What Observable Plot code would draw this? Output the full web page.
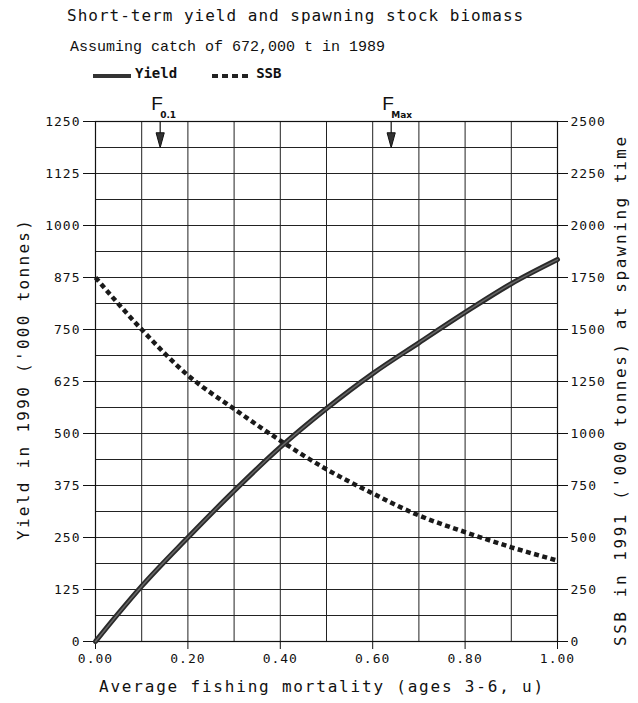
<!DOCTYPE html>
<html><head><meta charset="utf-8">
<script src="https://cdn.jsdelivr.net/npm/d3@7"></script>
<script src="https://cdn.jsdelivr.net/npm/@observablehq/plot@0.6"></script>
<style>
body{margin:0;background:#fff;}
#wrap{position:relative;width:638px;height:703px;overflow:hidden;}
#wrap > svg{position:absolute;left:0;top:0;}
#wrap > svg g[aria-label$="tick label"] text{letter-spacing:1px;}
.t{position:absolute;white-space:nowrap;color:#111;z-index:2;}
#title{left:67px;top:6px;font:16px "DejaVu Sans Mono";letter-spacing:1px;}
#sub{left:70px;top:39px;font:15px "Liberation Mono";}
#legend{left:93px;top:64px;font:bold 14px "DejaVu Sans Mono";display:flex;align-items:center;height:18px;}
#legend svg{display:block;}
#xlab{left:99px;top:677px;font:16px "DejaVu Sans Mono";letter-spacing:1.8px;}
.rot{transform-origin:0 0;transform:rotate(-90deg);font:16px "DejaVu Sans Mono";}
</style></head><body><div id="wrap">
<div class="t" id="title">Short-term yield and spawning stock biomass</div>
<div class="t" id="sub">Assuming catch of 672,000 t in 1989</div>
<div class="t" id="legend"><svg width="38" height="8" style="margin-top:6px"><rect x="0" y="2" width="38" height="4" fill="#333"/></svg><span style="margin-left:4px">Yield</span><svg width="36" height="8" style="margin-left:35px;margin-top:6px"><line x1="0" x2="36" y1="4" y2="4" stroke="#222" stroke-width="4" stroke-dasharray="6,4"/></svg><span style="margin-left:8px">SSB</span></div>
<div class="t" id="xlab">Average fishing mortality (ages 3-6, u)</div>
<div class="t rot" id="ylab" style="left:14px;top:540px;letter-spacing:2.3px;">Yield in 1990 ('000 tonnes)</div>
<div class="t rot" id="y2lab" style="left:611px;top:646px;letter-spacing:2.55px;">SSB in 1991 ('000 tonnes) at spawning time</div>
</div>
<script>
const fishingMortality = [0, 0.05, 0.1, 0.2, 0.3, 0.4, 0.5, 0.6, 0.7, 0.8, 0.9, 1.0];
const yieldValues = [0, 68, 133, 250, 362, 467, 560, 644, 718, 791, 860, 918];
const ssbValues = [1750, 1622, 1500, 1280, 1118, 966, 828, 712, 606, 526, 453, 389];
const yieldTicks = [0, 125, 250, 375, 500, 625, 750, 875, 1000, 1125, 1250];
const ssbTickLabels = ["0", "250", "500", "750", "1000", "1250", "1500", "1750", "2000", "2250", "2500"];
const xTicks = [0, 0.2, 0.4, 0.6, 0.8, 1.0];
const refF = [0.14, 0.64];
const refSub = ["0.1", "Max"];

const data = fishingMortality.map((f, i) => ({f, yield: yieldValues[i], ssb: ssbValues[i]}));
const refs = refF.map((f, i) => ({f, sub: refSub[i]}));
const ssbRatio = 1250 / 2500;

const narrowTri = {
  draw(ctx, size) {
    const s = Math.sqrt(size);
    ctx.moveTo(-s * 0.33, -s * 0.6);
    ctx.lineTo(s * 0.33, -s * 0.6);
    ctx.lineTo(0, s * 0.6);
    ctx.closePath();
  }
};

const chart = Plot.plot({
  width: 638, height: 703,
  marginLeft: 95, marginRight: 81, marginTop: 121, marginBottom: 62,
  x: {domain: [0, 1]},
  y: {domain: [0, 1250]},
  style: {fontFamily: "DejaVu Sans Mono", fontSize: "13px", color: "#111", background: "transparent"},
  marks: [
    Plot.gridX({ticks: d3.range(0, 1.0001, 0.1), stroke: "#222", strokeOpacity: 1, strokeWidth: 1}),
    Plot.gridY({ticks: d3.range(0, 1250.01, 62.5), stroke: "#222", strokeOpacity: 1, strokeWidth: 1}),
    Plot.frame({stroke: "#111", strokeWidth: 1.2}),
    Plot.axisY({ticks: yieldTicks, tickFormat: d => String(d), tickSize: 12, tickPadding: 3, label: null}),
    Plot.axisY({anchor: "right", ticks: yieldTicks, tickFormat: (d, i) => ssbTickLabels[i], tickSize: 10, tickPadding: 3, label: null}),
    Plot.axisX({ticks: xTicks, tickFormat: d => d.toFixed(2), tickSize: 8, tickPadding: 4, label: null}),
    Plot.line(data, {x: "f", y: d => d.ssb * ssbRatio, curve: "monotone-x", stroke: "#1a1a1a", strokeWidth: 4.5, strokeDasharray: "5,3.5", strokeLinecap: "butt"}),
    Plot.line(data, {x: "f", y: "yield", curve: "monotone-x", stroke: "#2a2a2a", strokeWidth: 5}),
    Plot.line(data, {x: "f", y: "yield", curve: "monotone-x", stroke: "#666", strokeWidth: 1.5}),
    Plot.ruleX(refs, {x: "f", y1: 1250, y2: 1215, stroke: "#111", strokeWidth: 1.2}),
    Plot.dot(refs, {x: "f", y: 1205, symbol: narrowTri, r: 7, fill: "#333", stroke: "#111", strokeWidth: 1}),
    Plot.text(refs, {x: "f", y: 1250, text: () => "F", dx: -9, dy: -12, textAnchor: "start", lineAnchor: "bottom", fontFamily: "Liberation Sans", fontSize: 19}),
    Plot.text(refs, {x: "f", y: 1250, text: "sub", dx: 0, dy: -4, textAnchor: "start", lineAnchor: "bottom", fontFamily: "DejaVu Sans", fontWeight: "bold", fontSize: 9})
  ]
});
document.getElementById("wrap").prepend(chart);
</script>
</body></html>
